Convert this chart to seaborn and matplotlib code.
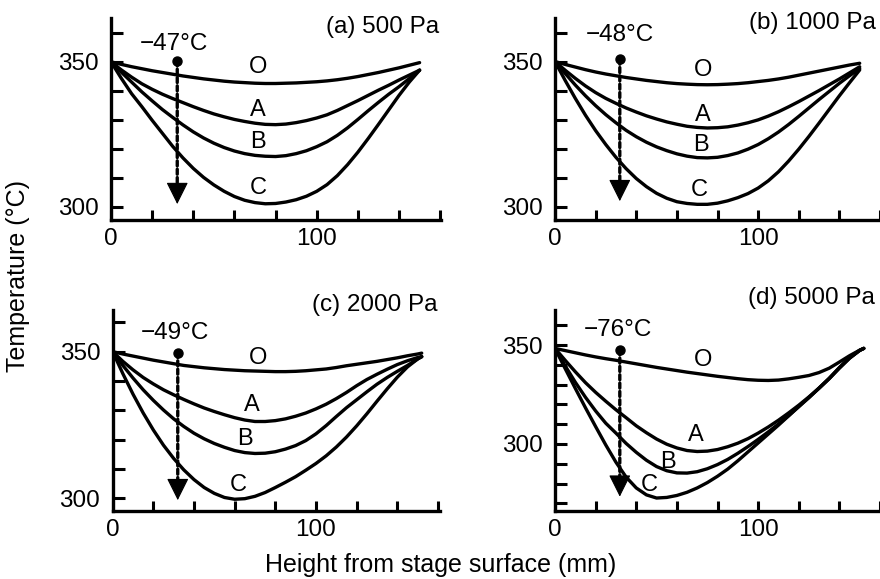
import matplotlib
matplotlib.use("Agg")
import matplotlib.pyplot as plt
import matplotlib.ticker as mticker
import numpy as np
import pandas as pd
import seaborn as sns

# ---------------- data ----------------
curve_names = ["O", "A", "B", "C"]

a_height = [0, 5, 10, 15, 20, 25, 30, 35, 40, 45, 50, 55, 60, 65, 70, 75, 80, 85, 90, 95, 100,
            105, 110, 115, 120, 125, 130, 135, 140, 145, 150]
a_O = [350, 349.1, 348.3, 347.6, 346.9, 346.3, 345.7, 345.1, 344.6, 344.1, 343.7, 343.3, 343.0, 342.8, 342.6,
       342.5, 342.5, 342.6, 342.7, 342.9, 343.1, 343.4, 343.8, 344.3, 344.9, 345.6, 346.3, 347.1, 347.9, 348.8, 349.7]
a_A = [350, 347.2, 344.7, 342.4, 340.5, 338.8, 337.3, 335.9, 334.5, 333.2, 332.0, 331.0, 330.1, 329.4, 328.8,
       328.4, 328.3, 328.5, 329.0, 329.7, 330.6, 331.7, 333.2, 334.9, 336.6, 338.4, 340.2, 341.9, 343.7, 345.4, 347.1]
a_B = [350, 346.4, 343.0, 339.6, 336.5, 333.5, 330.8, 328.2, 325.8, 323.7, 321.9, 320.4, 319.2, 318.3, 317.7,
       317.4, 317.3, 317.6, 318.3, 319.3, 320.7, 322.4, 324.6, 327.2, 330.1, 333.1, 336.0, 338.8, 341.4, 344.2, 347.1]
a_C = [350, 344.3, 339.0, 334.5, 329.8, 325.3, 320.8, 316.8, 313.2, 310.1, 307.5, 305.3, 303.5, 302.2, 301.4,
       301.0, 301.1, 301.6, 302.4, 303.6, 305.3, 307.6, 310.7, 314.5, 318.8, 323.5, 328.4, 333.4, 338.4, 343.0, 347.1]

b_height = [0, 5, 10, 15, 20, 25, 30, 35, 40, 45, 50, 55, 60, 65, 70, 75, 80, 85, 90, 95, 100,
            105, 110, 115, 120, 125, 130, 135, 140, 145, 150]
b_O = [350, 349.0, 348.1, 347.2, 346.4, 345.7, 345.1, 344.5, 344.0, 343.5, 343.1, 342.7, 342.4, 342.2, 342.05,
       342.0, 342.05, 342.2, 342.4, 342.7, 343.1, 343.5, 344.0, 344.6, 345.3, 346.0, 346.7, 347.4, 348.1, 348.8, 349.4]
b_A = [350, 347.0, 344.2, 341.6, 339.3, 337.3, 335.6, 334.0, 332.6, 331.3, 330.2, 329.2, 328.4, 327.7, 327.3,
       327.1, 327.2, 327.5, 328.1, 328.9, 329.9, 331.2, 332.7, 334.4, 336.2, 338.1, 340.0, 342.0, 344.0, 346.1, 348.2]
b_B = [350, 345.9, 341.9, 338.2, 334.8, 331.7, 328.9, 326.3, 324.1, 322.2, 320.6, 319.3, 318.2, 317.4, 316.9,
       316.8, 317.0, 317.6, 318.5, 319.8, 321.4, 323.4, 325.7, 328.3, 331.1, 334.0, 336.9, 339.7, 342.5, 345.1, 347.6]
b_C = [350, 343.5, 337.3, 331.5, 326.2, 321.4, 317.0, 313.1, 309.7, 306.9, 304.6, 302.9, 301.7, 301.1, 300.8,
       300.8, 301.2, 302.0, 303.1, 304.5, 306.4, 308.9, 312.0, 315.7, 319.8, 324.2, 328.8, 333.5, 338.2, 342.7, 347.1]

c_height = [0, 5, 10, 15, 20, 25, 30, 35, 40, 45, 50, 55, 60, 65, 70, 75, 80, 85, 90, 95, 100,
            105, 110, 115, 120, 125, 130, 135, 140, 145, 150, 152]
c_O = [350, 349.2, 348.5, 347.8, 347.1, 346.5, 345.9, 345.3, 344.9, 344.5, 344.2, 343.9, 343.7, 343.5, 343.4,
       343.3, 343.2, 343.2, 343.3, 343.5, 343.8, 344.1, 344.6, 345.2, 345.7, 346.2, 346.7, 347.3, 347.9, 348.6,
       349.2, 349.5]
c_A = [350, 346.7, 343.8, 341.2, 339.0, 337.0, 335.3, 333.7, 332.2, 330.8, 329.6, 328.5, 327.5, 326.7, 326.2,
       326.2, 326.5, 327.1, 328.0, 329.1, 330.5, 332.1, 334.0, 336.1, 338.4, 340.5, 342.3, 344.0, 345.6, 346.9,
       348.0, 348.3]
c_B = [350, 345.3, 341.0, 337.0, 333.4, 330.1, 327.1, 324.5, 322.2, 320.3, 318.7, 317.4, 316.3, 315.6, 315.3,
       315.4, 315.9, 316.8, 318.0, 319.7, 322.0, 324.8, 327.9, 330.9, 333.6, 336.3, 338.9, 341.2, 343.3, 345.3,
       347.5, 348.3]
c_C = [350, 342.5, 335.5, 329.1, 323.3, 318.1, 313.6, 309.7, 306.4, 303.7, 301.7, 300.3, 299.7, 299.9, 300.7,
       302.0, 303.7, 305.5, 307.4, 309.6, 311.9, 314.5, 317.5, 320.9, 324.7, 328.8, 333.1, 337.3, 341.3, 344.8,
       347.5, 348.3]

d_height = [0, 5, 10, 15, 20, 25, 30, 35, 40, 45, 50, 55, 60, 65, 70, 75, 80, 85, 90, 95, 100,
            105, 110, 115, 120, 125, 130, 135, 140, 145, 150, 152]
d_O = [348.3, 347.2, 346.1, 345.0, 344.0, 343.1, 342.3, 341.4, 340.5, 339.6, 338.7, 337.9, 337.1, 336.3, 335.6,
       334.9, 334.2, 333.6, 333.0, 332.5, 332.2, 332.1, 332.3, 332.9, 333.7, 334.6, 336.1, 338.3, 341.4, 344.6,
       347.4, 348.3]
d_A = [348.3, 342.3, 336.5, 331.0, 326.1, 321.6, 317.3, 313.3, 309.2, 305.7, 302.5, 299.9, 298.0, 296.7, 296.2,
       296.4, 297.2, 298.6, 300.4, 302.7, 305.5, 308.6, 312.0, 315.7, 319.6, 323.8, 328.2, 333.0, 338.5, 343.4,
       347.3, 348.3]
d_B = [348.3, 339.5, 331.2, 323.6, 316.7, 310.5, 305.5, 300.3, 295.8, 291.8, 288.6, 286.5, 285.4, 285.3, 286.0,
       287.5, 289.6, 292.2, 295.3, 298.7, 302.3, 306.1, 310.1, 314.3, 318.8, 323.5, 328.3, 333.2, 338.6, 343.6,
       347.3, 348.3]
d_C = [348.3, 338.1, 328.1, 318.3, 308.8, 299.5, 290.8, 283.3, 277.8, 274.3, 272.7, 273.0, 274.0, 275.6, 277.8,
       280.5, 283.7, 287.3, 291.5, 296.0, 300.5, 305.0, 309.5, 314.2, 319.0, 323.4, 328.2, 333.1, 338.3, 343.3,
       347.3, 348.3]

panel_titles = ["(a) 500 Pa", "(b) 1000 Pa", "(c) 2000 Pa", "(d) 5000 Pa"]
drop_labels = ["\u221247\u00b0C", "\u221248\u00b0C", "\u221249\u00b0C", "\u221276\u00b0C"]

# annotation anchors (data units)
arrow_x = [32.2, 31.9, 32.0, 31.9]
arrow_top = [350.3, 350.8, 349.7, 347.6]
arrow_tip = [300.9, 301.9, 299.4, 273.4]
drop_label_xy = [(30.7, 356.3), (31.9, 359.2), (30.5, 356.3), (30.9, 357.6)]
title_xy = [(159.5, 362.0), (158.0, 363.2), (160.0, 366.0), (157.5, 373.7)]
curve_label_xy = [
    [(71.6, 348.3), (71.6, 333.3), (71.6, 322.4), (71.6, 306.3)],
    [(72.7, 347.1), (72.7, 331.7), (71.8, 321.4), (71.0, 305.9)],
    [(71.6, 347.7), (68.4, 331.8), (65.1, 320.4), (61.8, 304.5)],
    [(72.7, 342.4), (69.4, 304.5), (55.6, 291.1), (46.6, 279.3)],
]

panels = [
    (a_height, [a_O, a_A, a_B, a_C]),
    (b_height, [b_O, b_A, b_B, b_C]),
    (c_height, [c_O, c_A, c_B, c_C]),
    (d_height, [d_O, d_A, d_B, d_C]),
]

# ---------------- layout ----------------
W, H = 880, 579
# (left px, right px, top px, bottom px)
boxes = [(111, 441, 18, 220), (555, 880, 18, 220), (112.7, 440, 310, 510.7), (555, 880, 310, 510.7)]
xlims = [(0, 160.4), (0, 159.3), (0, 161.0), (0, 159.3)]
ylims = [(295.4, 365.1), (295.4, 365.0), (295.8, 364.2), (266.3, 367.7)]
yticks = [np.arange(300, 361, 10), np.arange(300, 361, 10), np.arange(300, 361, 10), np.arange(270, 361, 10)]

sns.set_theme(style="ticks")
plt.rcParams["font.family"] = ["Liberation Sans", "DejaVu Sans"]
plt.rcParams["axes.unicode_minus"] = True
plt.rcParams["text.color"] = "black"
plt.rcParams["axes.labelcolor"] = "black"
plt.rcParams["xtick.color"] = "black"
plt.rcParams["ytick.color"] = "black"

fig = plt.figure(figsize=(W / 100, H / 100), dpi=100)
fig.patch.set_facecolor("white")

LW = 2.4
FS_TICK = 17.5
FS_TXT = 17.5
for i, (heights, series) in enumerate(panels):
    l, r, t, b = boxes[i]
    ax = fig.add_axes([l / W, 1 - b / H, (r - l) / W, (b - t) / H])
    ax.set_facecolor("white")
    df = pd.concat(
        [pd.DataFrame({"Height": heights, "Temp": vals, "Curve": name}) for name, vals in zip(curve_names, series)],
        ignore_index=True,
    )
    sns.lineplot(data=df, x="Height", y="Temp", hue="Curve", palette={n: "black" for n in curve_names},
                 legend=False, lw=LW, ax=ax, sort=False, estimator=None)
    for line in ax.lines:
        line.set_solid_capstyle("round")
        line.set_solid_joinstyle("round")

    ax.set_xlim(*xlims[i])
    ax.set_ylim(*ylims[i])
    ax.set_xticks(np.arange(0, 161, 20))
    ax.set_yticks(yticks[i])
    ax.xaxis.set_major_formatter(mticker.FuncFormatter(lambda v, p: f"{int(round(v))}" if round(v) in (0, 100) else ""))
    ax.yaxis.set_major_formatter(mticker.FuncFormatter(lambda v, p: f"{int(round(v))}" if round(v) in (300, 350) else ""))
    ax.tick_params(axis="x", direction="in", length=7.5, width=2.2, pad=6, labelsize=FS_TICK, colors="black")
    ax.tick_params(axis="y", direction="in", length=8.5, width=2.2, pad=9, labelsize=FS_TICK, colors="black")
    for s in ["top", "right"]:
        ax.spines[s].set_visible(False)
    for s in ["left", "bottom"]:
        ax.spines[s].set_linewidth(2.4)
        ax.spines[s].set_color("black")
        ax.spines[s].set_capstyle("projecting")
    ax.set_xlabel("")
    ax.set_ylabel("")

    # dotted arrow
    ax.annotate("", xy=(arrow_x[i], arrow_tip[i]), xytext=(arrow_x[i], arrow_top[i]),
                arrowprops=dict(arrowstyle="-", lw=2.4, linestyle=(0, (1.5, 1.0)), color="black",
                                shrinkA=0, shrinkB=10), annotation_clip=False)
    ax.annotate("", xy=(arrow_x[i], arrow_tip[i]), xytext=(0, 15), textcoords="offset points",
                arrowprops=dict(arrowstyle="-|>,head_length=1.0,head_width=0.5", mutation_scale=14,
                                lw=0.8, color="black", shrinkA=0, shrinkB=0), annotation_clip=False)
    ax.plot([arrow_x[i]], [arrow_top[i]], "o", ms=6.5, color="black", clip_on=False)

    ax.text(drop_label_xy[i][0], drop_label_xy[i][1], drop_labels[i], ha="center", va="center",
            fontsize=FS_TXT, color="black")
    ax.text(title_xy[i][0], title_xy[i][1], panel_titles[i], ha="right", va="center",
            fontsize=FS_TXT, color="black", clip_on=False)
    for name, (cx, cy) in zip(curve_names, curve_label_xy[i]):
        ax.text(cx, cy, name, ha="center", va="center", fontsize=17, color="black")

fig.text(18 / W, 1 - 276 / H, "Temperature (\u00b0C)", rotation=90, ha="center", va="center", fontsize=18)
fig.text(441 / W, 1 - 565 / H, "Height from stage surface (mm)", ha="center", va="center", fontsize=18)

fig.savefig("out.png", dpi=100, facecolor="white")
